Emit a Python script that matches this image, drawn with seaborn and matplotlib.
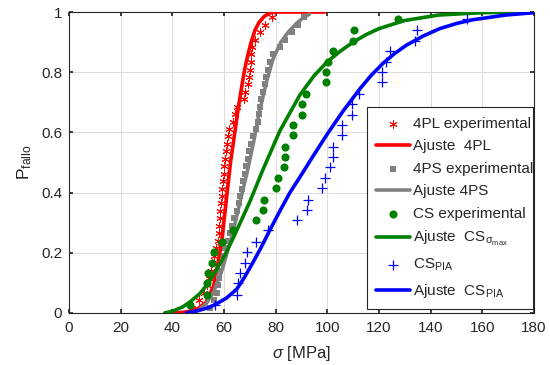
import matplotlib
matplotlib.use("Agg")
import matplotlib.pyplot as plt
import seaborn as sns

# ===== DATA =====
# experimental points, 4PL (red asterisks) and 4PS (grey squares) share the ranks
p_4p = [0.017, 0.042, 0.067, 0.092, 0.116, 0.141, 0.166, 0.191, 0.215, 0.240,
        0.265, 0.290, 0.314, 0.339, 0.364, 0.389, 0.413, 0.438, 0.463, 0.488,
        0.512, 0.537, 0.562, 0.587, 0.611, 0.636, 0.661, 0.686, 0.710, 0.735,
        0.760, 0.785, 0.809, 0.834, 0.859, 0.884, 0.908, 0.933, 0.958, 0.983]
s_4pl = [47.5, 50.5, 52.3, 53.3, 54.0, 54.8, 55.5, 56.2, 57.0, 57.5,
         57.9, 58.1, 58.4, 58.6, 58.9, 59.1, 59.3, 59.5, 59.8, 60.1,
         60.5, 60.8, 61.2, 61.6, 62.1, 63.5, 64.4, 65.2, 67.6, 68.0,
         69.2, 69.7, 70.0, 70.4, 70.6, 70.8, 71.8, 73.8, 76.0, 78.5]
s_4ps = [54.5, 56.3, 57.2, 57.7, 58.1, 58.6, 59.4, 60.0, 60.5, 61.5,
         62.3, 63.0, 64.0, 65.1, 65.8, 66.3, 67.0, 67.5, 68.0, 68.6,
         69.2, 69.7, 70.3, 71.3, 72.2, 73.1, 73.7, 74.1, 74.5, 75.1,
         75.7, 76.2, 77.1, 77.9, 79.0, 81.5, 83.5, 86.5, 88.8, 91.0]
# CS points (green circles) and CS_PIA points (blue crosses)
p_cs = [0.027, 0.060, 0.099, 0.132, 0.167, 0.204, 0.237, 0.276, 0.309, 0.342,
        0.377, 0.414, 0.447, 0.484, 0.519, 0.552, 0.591, 0.625, 0.658, 0.694,
        0.728, 0.768, 0.802, 0.835, 0.871, 0.905, 0.940, 0.976]
s_cs = [46.8, 53.3, 53.5, 53.9, 55.2, 56.1, 59.1, 63.6, 72.3, 75.2,
        75.5, 80.3, 80.7, 83.3, 83.6, 83.6, 86.8, 86.8, 90.0, 90.0,
        91.7, 99.3, 99.4, 100.3, 102.0, 110.0, 110.4, 127.4]
s_pia = [56.5, 65.1, 65.5, 66.1, 68.1, 68.9, 72.4, 77.1, 88.3, 92.0,
         92.6, 98.1, 99.0, 101.1, 102.0, 102.0, 105.8, 105.8, 109.7, 109.7,
         112.4, 121.3, 121.3, 122.6, 124.2, 133.8, 134.7, 154.2]

# fitted curves
fit_4pl_s = [40, 44, 47, 50, 53, 56, 59, 62.5, 65.5, 66.8, 68, 69.3, 70.5,
             72, 73.5, 75.5, 77.5, 79, 85, 99]
fit_4pl_p = [0, 0.002, 0.006, 0.015, 0.035, 0.09, 0.23, 0.50, 0.68, 0.75,
             0.81, 0.86, 0.90, 0.94, 0.965, 0.985, 0.996, 1.0, 1.0, 1.0]
fit_4ps_s = [47, 50, 53, 56, 59.5, 63.5, 66.5, 69, 71.5, 74, 76.5, 79, 82,
             85, 88, 90.5, 93]
fit_4ps_p = [0, 0.008, 0.03, 0.07, 0.15, 0.27, 0.38, 0.47, 0.57, 0.68,
             0.77, 0.845, 0.9, 0.935, 0.962, 0.98, 0.993]
fit_cs_s = [37, 40, 44, 47, 50.7, 54, 57, 60.5, 63.6, 66.8, 70, 75, 81.6,
            89.4, 95, 100, 105, 110, 115, 120, 130, 143, 160, 180]
fit_cs_p = [0, 0.006, 0.02, 0.038, 0.065, 0.1, 0.143, 0.195, 0.25, 0.31,
            0.37, 0.475, 0.605, 0.725, 0.79, 0.835, 0.87, 0.9, 0.925, 0.945,
            0.972, 0.99, 0.998, 1.0]
fit_pia_s = [45.5, 50, 54, 57, 61, 65, 68, 71, 74.5, 78, 82, 85.5, 90, 94,
             100, 106, 112.6, 117, 121.6, 126, 130.6, 137, 143.5, 150, 156,
             169, 180]
fit_pia_p = [0, 0.008, 0.018, 0.03, 0.05, 0.08, 0.12, 0.165, 0.22, 0.28,
             0.345, 0.4, 0.46, 0.515, 0.595, 0.67, 0.745, 0.79, 0.83, 0.862,
             0.89, 0.92, 0.945, 0.962, 0.974, 0.99, 0.998]

xticks = [0, 20, 40, 60, 80, 100, 120, 140, 160, 180]
yticks = [0, 0.2, 0.4, 0.6, 0.8, 1]
ylabels = ["0", "0.2", "0.4", "0.6", "0.8", "1"]

# ===== STYLE =====
sns.set_theme(style="whitegrid")
plt.rcParams.update({
    "font.family": ["Liberation Sans", "DejaVu Sans"],
    "mathtext.fontset": "custom",
    "mathtext.rm": "Liberation Sans",
    "mathtext.it": "Liberation Sans:italic",
    "mathtext.default": "rm",
})

fig = plt.figure(figsize=(5.5, 3.65), dpi=100)
ax = fig.add_axes([0.1255, 0.1425, 0.8455, 0.8245])

lw = 2.6
sns.scatterplot(x=s_4pl, y=p_4p, ax=ax, marker=(6, 2, 0), s=28, color="red",
                edgecolor="red", linewidth=0.7, label="4PL experimental", zorder=3)
sns.lineplot(x=fit_4pl_s, y=fit_4pl_p, ax=ax, color="red", lw=lw,
             label="Ajuste  4PL", zorder=3)
sns.scatterplot(x=s_4ps, y=p_4p, ax=ax, marker="s", s=14, color="grey",
                edgecolor="grey", linewidth=0, label="4PS experimental", zorder=3)
sns.lineplot(x=fit_4ps_s, y=fit_4ps_p, ax=ax, color="grey", lw=lw,
             label="Ajuste 4PS", zorder=3)
sns.scatterplot(x=s_cs, y=p_cs, ax=ax, marker="o", s=34, color="green",
                edgecolor="green", linewidth=0, label="CS experimental", zorder=3)
sns.lineplot(x=fit_cs_s, y=fit_cs_p, ax=ax, color="green", lw=lw,
             label=r"Ajuste  CS$_{\sigma_{\rm max}}$", zorder=3)
sns.scatterplot(x=s_pia, y=p_cs, ax=ax, marker="+", s=60, color="blue",
                edgecolor="blue", linewidth=0.9, label=r"CS$_{\rm PIA}$", zorder=3)
sns.lineplot(x=fit_pia_s, y=fit_pia_p, ax=ax, color="blue", lw=lw,
             label=r"Ajuste  CS$_{\rm PIA}$", zorder=3)

ax.set_xlim(0, 180)
ax.set_ylim(0, 1)
ax.set_xticks(xticks)
ax.set_yticks(yticks)
ax.set_yticklabels(ylabels)
ax.tick_params(direction="in", length=3, labelsize=11, colors="#262626",
               top=True, right=True, bottom=True, left=True)
ax.tick_params(axis="x", pad=6)
ax.tick_params(axis="y", pad=5)
ax.grid(True, color="#dcdcdc", lw=0.7)
for sp in ax.spines.values():
    sp.set_color("#262626")
    sp.set_linewidth(0.8)

ax.set_xlabel(r"$\it{\sigma}$ [MPa]", fontsize=12, color="#262626", labelpad=6)
ax.set_ylabel(r"P$_{\rm fallo}$", fontsize=12.5, color="#262626", labelpad=5)

leg = ax.legend(loc="lower left", bbox_to_anchor=(0.641, 0.013, 0.357, 0.661),
                mode="expand", fontsize=11, frameon=True, fancybox=False,
                framealpha=1, edgecolor="#262626", handlelength=2.2,
                handletextpad=0.2, labelspacing=0.56, borderpad=0.6,
                borderaxespad=0)
leg.get_frame().set_linewidth(0.8)

fig.savefig("out.png", dpi=100)
